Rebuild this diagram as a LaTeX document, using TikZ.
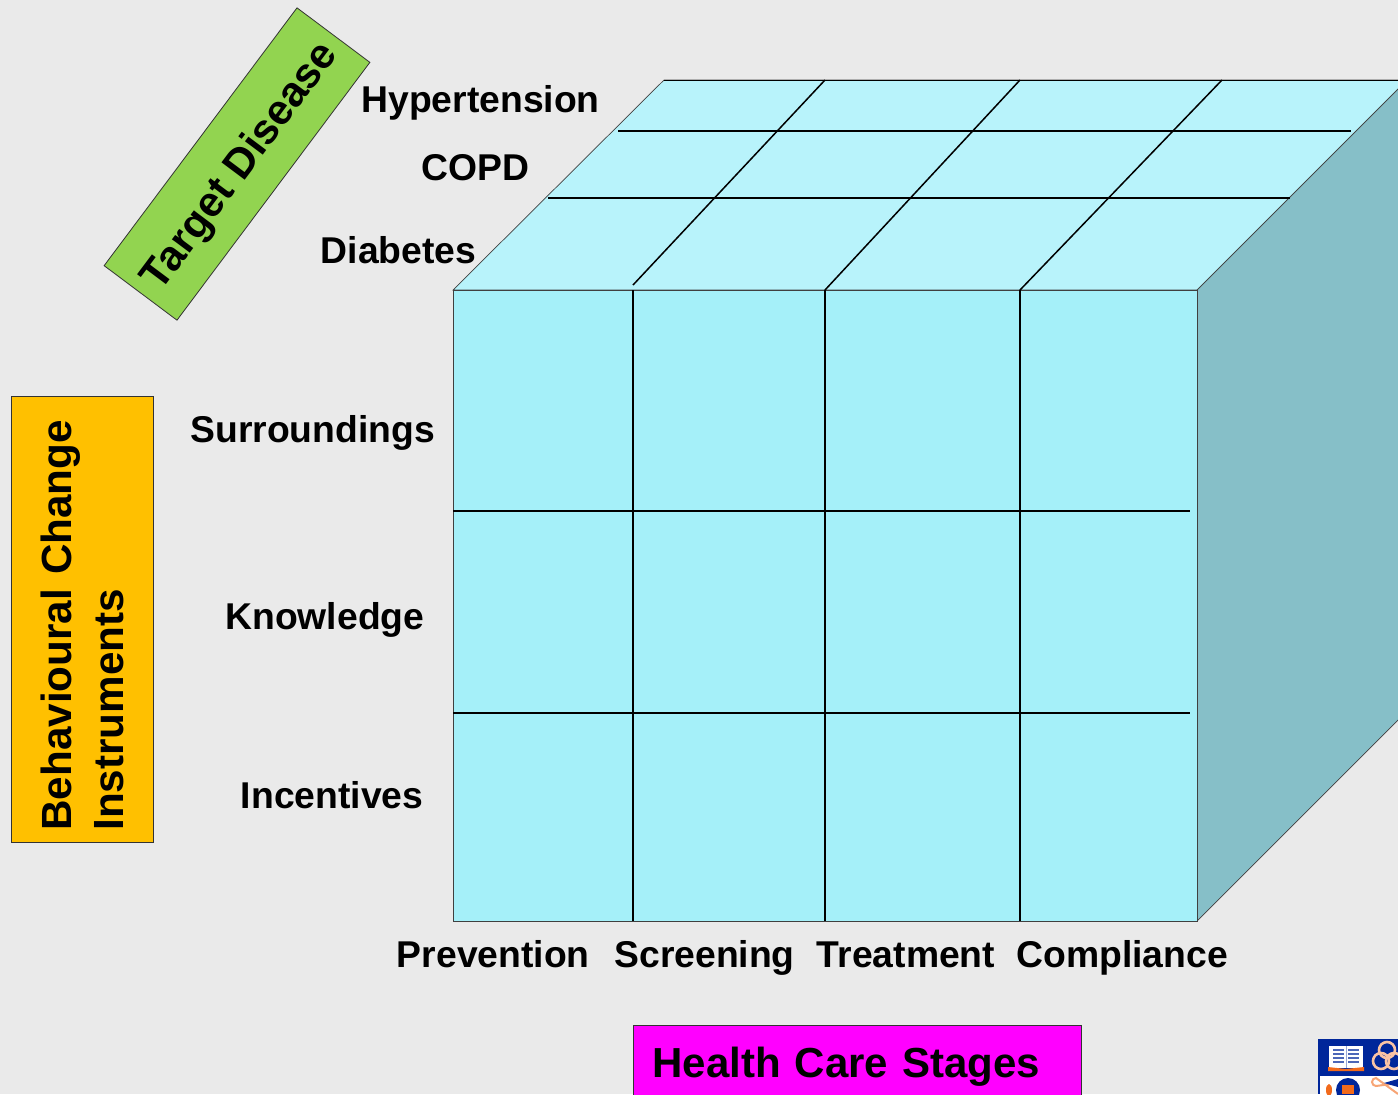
\documentclass[tikz,border=0pt]{standalone}
\usepackage{fontspec}
\setmainfont{Liberation Sans}
\definecolor{slidebg}{HTML}{EAEAEA}
\definecolor{frontcol}{HTML}{A5F0F9}
\definecolor{topcol}{HTML}{B8F3FB}
\definecolor{sidecol}{HTML}{86BFC8}
\definecolor{logoblue}{HTML}{00269A}
\definecolor{logoorange}{HTML}{F26A1B}
\tikzset{
  axislabel/.style = {anchor=base west, inner sep=0pt, font=\fontsize{18.65}{22}\selectfont\bfseries},
  titlebox/.style  = {draw=black!80, line width=0.4pt, inner sep=0pt, font=\fontsize{21.1}{26}\selectfont\bfseries},
  gridline/.style  = {draw=black, line width=0.75pt},
  edgeline/.style  = {draw=black!75, line width=0.35pt}
}
\begin{document}
\begin{tikzpicture}[x=0.5pt, y=-0.5pt]
  \useasboundingbox (0,0) rectangle (1398,1094);
  \clip (0,0) rectangle (1398,1094);
  \fill [slidebg] (0,0) rectangle (1398,1094);
  % cube corners
  \coordinate (fl) at (453,290);
  \coordinate (fr) at (1197,290);
  \coordinate (bl) at (453,921);
  \coordinate (br) at (1197,921);
  \coordinate (tl) at (664,80);
  \coordinate (tr) at (1407,80);
  \coordinate (sr) at (1407,711);
  \path [fill=topcol, edgeline] (fl) -- (tl) -- (tr) -- (fr) -- cycle;
  \path [fill=sidecol, edgeline] (fr) -- (tr) -- (sr) -- (br) -- cycle;
  \path [fill=frontcol, edgeline] (fl) rectangle (br);
  \draw [black, line width=0.45pt] (tl) -- (tr);
  % grid on front face
  \foreach \x in {633,825,1020}
    \draw [gridline] (\x,290) -- (\x,921);
  \foreach \y in {511,713}
    \draw [gridline] (453,\y) -- (1190,\y);
  % grid on top face
  \draw [gridline] (618,131) -- (1351,131);
  \draw [gridline] (548,198) -- (1290,198);
  \draw [gridline] (633,285) -- (825,80);
  \draw [gridline] (825,290) -- (1020,80);
  \draw [gridline] (1020,290) -- (1222,80);
  % labels
  \foreach \name/\x/\y/\txt in {hyper/361/112/Hypertension, copd/421/180/COPD, diab/320.5/263/Diabetes,
      surr/190/442/Surroundings, know/225/629/Knowledge, inc/240.5/808/Incentives,
      prev/396.5/967/Prevention, scr/614/967/Screening, treat/816.5/967/Treatment, comp/1016/967/Compliance}
    \node [axislabel] (\name) at (\x,\y) {\txt};
  % title boxes
  \node [titlebox, fill={rgb,255:red,146;green,212;blue,80}, rotate=53.2, minimum width=161pt, minimum height=45.5pt] (disease) at (237,164) {\raisebox{-2.9pt}[15pt][5pt]{Target Disease}};
  \node [titlebox, fill={rgb,255:red,255;green,192;blue,0}, rotate=90, minimum height=71pt, inner xsep=5.75pt, text width=211.5pt, align=left] (instr) at (82.5,619) {Behavioural Change\\Instruments};
  \node [titlebox, fill={rgb,255:red,255;green,0;blue,255}, anchor=north west, minimum height=41pt, inner xsep=9.5pt, text width=205pt, align=left, font=\fontsize{21}{26}\selectfont\bfseries] (stages) at (633,1025) {Health Care Stages};
  % logo
  \fill [logoblue] (1318,1039) rectangle (1398,1094);
  \fill [white] (1320,1076) rectangle (1398,1094);
  \fill [white] (1329,1046) rectangle (1363,1068);
  \fill [logoorange] (1328,1067) -- (1346,1069) -- (1364,1067) -- (1364,1071) -- (1328,1071) -- cycle;
  \foreach \y in {1050,1054,1058,1062}
    \draw [logoblue!70, line width=0.7pt] (1333,\y) -- (1344,\y) (1348,\y) -- (1359,\y);
  \draw [logoblue!40, line width=0.5pt] (1346,1046) -- (1346,1068);
  \foreach \cx/\cy in {1387/1050,1381/1061,1394/1061}
    \draw [white!60!logoorange, line width=1.3pt] (\cx,\cy) circle [radius=8];
  \fill [logoblue] (1348,1090) circle [radius=12];
  \fill [logoorange] (1342,1085) rectangle (1354,1094);
  \fill [logoorange] (1329,1090) ellipse [x radius=3, y radius=6];
  \draw [white!40!logoorange, line width=1pt] (1398,1083) -- (1376,1086) arc [start angle=90, end angle=270, radius=4] -- (1398,1094);
  \fill [logoblue] (1398,1079) -- (1384,1083) -- (1398,1087) -- cycle;
\end{tikzpicture}
\end{document}
